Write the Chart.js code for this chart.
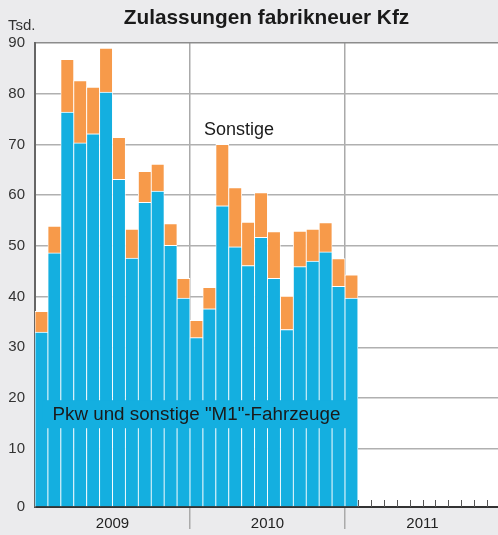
<!DOCTYPE html>
<html>
<head>
<meta charset="utf-8">
<script src="https://cdn.jsdelivr.net/npm/chart.js@4"></script>
<style>
  html, body { margin: 0; padding: 0; background: #ebebed; overflow: hidden; }
  #wrap { width: 500px; height: 535px; position: relative; }
</style>
</head>
<body>
<div id="wrap"><canvas id="kfz"></canvas></div>
<script>
const years = ['2009', '2010', '2011'];
const monthNames = ['Jan', 'Feb', 'Mär', 'Apr', 'Mai', 'Jun', 'Jul', 'Aug', 'Sep', 'Okt', 'Nov', 'Dez'];
// Tsd. Fahrzeuge, Jan 2009 .. Jan 2011
const pkw = [33.0, 48.6, 76.4, 70.3, 72.1, 80.3, 63.1, 47.6, 58.6, 60.8, 50.1, 39.7,
             31.9, 37.6, 57.9, 49.8, 46.1, 51.7, 43.6, 33.5, 45.9, 47.0, 48.8, 42.0,
             39.7];
const sonstige = [4.1, 5.3, 10.4, 12.3, 9.2, 8.7, 8.3, 5.7, 6.1, 5.3, 4.3, 3.9,
                  3.4, 4.2, 12.1, 11.7, 8.6, 8.8, 9.2, 6.6, 7.0, 6.3, 5.8, 5.5,
                  4.6];
const yTicks = [0, 10, 20, 30, 40, 50, 60, 70, 80, 90];

const yMin = -1.5;
const months = [];
years.forEach(yr => monthNames.forEach(m => months.push(m + ' ' + yr)));

Chart.defaults.font.family = '"Liberation Sans", Arial, Helvetica, sans-serif';

const decor = {
  id: 'decor',
  beforeDraw(chart) {
    const { ctx, chartArea: a } = chart;
    ctx.save();
    ctx.fillStyle = '#ffffff';
    ctx.fillRect(a.left, a.top, a.right - a.left, a.bottom - a.top);
    ctx.restore();
  },
  afterDatasetsDraw(chart) {
    const { ctx, chartArea: a, scales: { x, y } } = chart;
    ctx.save();

    // kleine Monatsstriche im leeren Jahr
    ctx.strokeStyle = '#555';
    ctx.lineWidth = 1;
    for (let i = pkw.length; i < months.length; i++) {
      const px = Math.round(x.getPixelForValue(i - 0.5)) + 0.5;
      ctx.beginPath();
      ctx.moveTo(px, a.bottom - 7);
      ctx.lineTo(px, a.bottom);
      ctx.stroke();
    }

    // Beschriftung Pkw mit blauem Kasten
    ctx.font = '18.8px "Liberation Sans", Arial, sans-serif';
    ctx.textAlign = 'center';
    ctx.textBaseline = 'middle';
    const label = 'Pkw und sonstige "M1"-Fahrzeuge';
    const cx = (x.getPixelForValue(0) + x.getPixelForValue(pkw.length - 1)) / 2;
    const cy = y.getPixelForValue(16.8);
    const w = ctx.measureText(label).width + 20;
    ctx.fillStyle = '#14afe0';
    ctx.fillRect(cx - w / 2, cy - 14, w, 28);
    ctx.fillStyle = '#1a1a1a';
    ctx.fillText(label, cx, cy + 1);

    // Sonstige
    ctx.font = '18px "Liberation Sans", Arial, sans-serif';
    ctx.fillText('Sonstige', x.getPixelForValue(15.3), y.getPixelForValue(72.9));

    // Titel und Einheit
    ctx.font = 'bold 20.8px "Liberation Sans", Arial, sans-serif';
    ctx.fillText('Zulassungen fabrikneuer Kfz', (a.left + a.right) / 2 - 1, 18);
    ctx.font = '15px "Liberation Sans", Arial, sans-serif';
    ctx.textAlign = 'left';
    ctx.fillStyle = '#333';
    ctx.fillText('Tsd.', 8, 26);
    ctx.restore();
  }
};

new Chart('kfz', {
  type: 'bar',
  data: {
    labels: months,
    datasets: [
      {
        label: 'Pkw und sonstige "M1"-Fahrzeuge',
        data: pkw,
        base: yMin,
        backgroundColor: '#14afe0',
        borderColor: '#ffffff',
        borderWidth: { left: 0.8, right: 0.8, top: 1, bottom: 0 },
        borderSkipped: false
      },
      {
        label: 'Sonstige',
        data: sonstige,
        backgroundColor: '#f79a4a',
        borderColor: '#ffffff',
        borderWidth: { left: 0.8, right: 0.8, top: 1, bottom: 0 },
        borderSkipped: false
      }
    ]
  },
  options: {
    responsive: true,
    maintainAspectRatio: false,
    animation: false,
    layout: { padding: { top: 43, left: 0, right: 0, bottom: 0 } },
    datasets: { bar: { barPercentage: 1, categoryPercentage: 1 } },
    plugins: { legend: { display: false }, tooltip: { enabled: false }, title: { display: false } },
    scales: {
      x: {
        type: 'category',
        stacked: true,
        display: false,
        offset: true
      },
      xYear: {
        type: 'category',
        labels: years,
        position: 'bottom',
        offset: true,
        grid: {
          offset: true,
          color: c => c.index === 0 ? 'rgba(0,0,0,0)' : '#aaaaaa',
          lineWidth: 1.5,
          tickLength: 22
        },
        border: { color: '#333', width: 2 },
        ticks: { font: { size: 15 }, color: '#222', padding: -14, maxRotation: 0 },
        afterFit: s => { s.height = 28; }
      },
      y: {
        stacked: true,
        min: yMin,
        max: 90,
        afterBuildTicks: s => { s.ticks = yTicks.map(v => ({ value: v === 0 ? yMin : v })); },
        ticks: {
          callback: v => v === yMin ? '0' : String(v),
          font: { size: 15 },
          color: '#333',
          padding: 10
        },
        grid: {
          color: c => c.tick && c.tick.value === 90 ? '#8c8c8c' : '#b0b0b0',
          lineWidth: 1.5,
          drawTicks: false
        },
        border: { color: '#666', width: 2 },
        afterFit: s => { s.width = 35; }
      }
    }
  },
  plugins: [decor]
});
</script>
</body>
</html>
